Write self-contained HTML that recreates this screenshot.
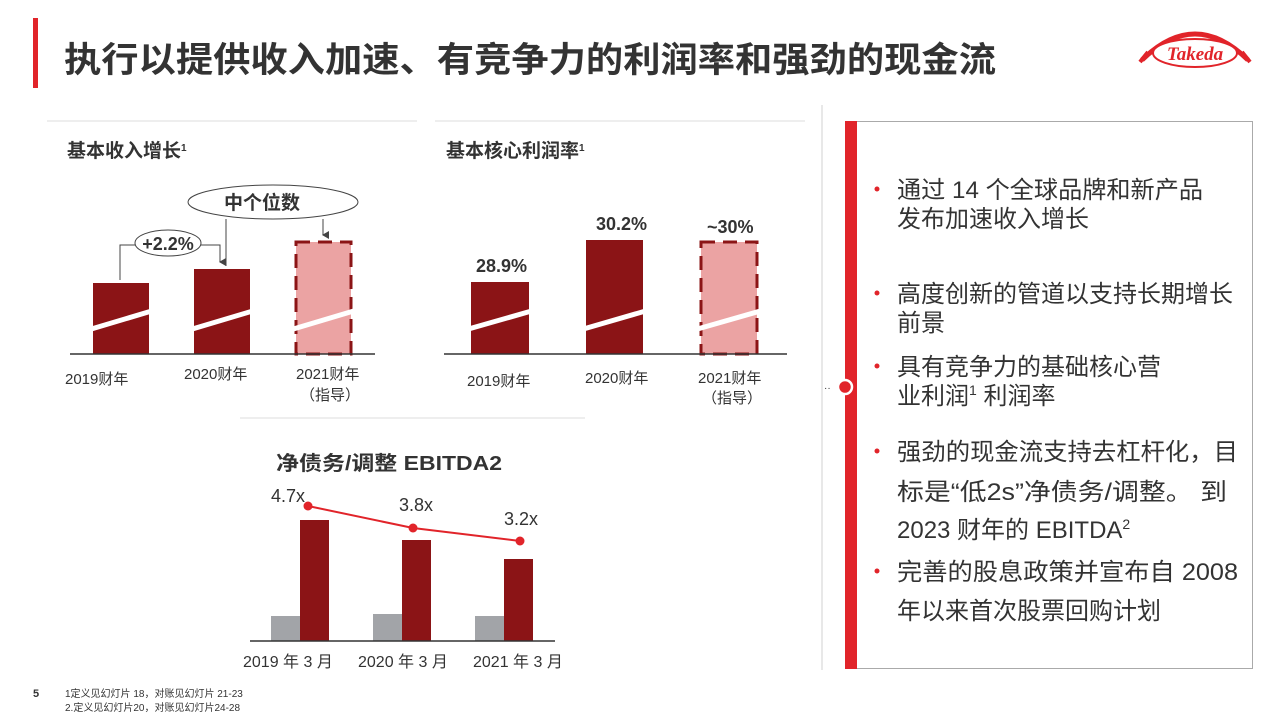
<!DOCTYPE html>
<html><head><meta charset="utf-8"><style>
html,body{margin:0;padding:0;background:#fff;width:1280px;height:720px;overflow:hidden}
svg{display:block}
text{font-family:"Liberation Sans","Noto Sans CJK SC",sans-serif;fill:#333}
</style></head><body>
<svg width="1280" height="720" viewBox="0 0 1280 720" xmlns="http://www.w3.org/2000/svg">
<defs><marker id="ar" markerWidth="8" markerHeight="8" refX="4" refY="6" orient="auto-start-reverse" markerUnits="userSpaceOnUse"><path d="M0,0 L8,0 L4,7 Z" fill="#444"/></marker></defs>
<!-- header -->
<rect x="33" y="18" width="5" height="70" fill="#e1242a"/>
<text x="64" y="72" font-size="35" font-weight="bold" fill="#333" textLength="932" lengthAdjust="spacingAndGlyphs">执行以提供收入加速、有竞争力的利润率和强劲的现金流</text>
<!-- logo -->
<path d="M1142,60 Q1195,8 1248,60" fill="none" stroke="#e1242a" stroke-width="5"/>
<path d="M1140,62 l8,-10 M1250,62 l-8,-10" stroke="#e1242a" stroke-width="4"/>
<ellipse cx="1195" cy="53" rx="42" ry="14" fill="#fff" stroke="#e1242a" stroke-width="2"/>
<text x="1195" y="60" font-size="19" font-style="italic" font-weight="bold" text-anchor="middle" style="fill:#e1242a;font-family:'Liberation Serif',serif">Takeda</text>
<!-- separators -->
<line x1="47" y1="121" x2="417" y2="121" stroke="#ddd"/>
<line x1="435" y1="121" x2="805" y2="121" stroke="#ddd"/>
<line x1="240" y1="418" x2="585" y2="418" stroke="#ddd"/>
<line x1="822" y1="105" x2="822" y2="670" stroke="#e8e8e8" stroke-width="2"/>
<!-- chart1 -->
<text x="67" y="157" font-size="19" font-weight="bold">基本收入增长<tspan font-size="10" dy="-6">1</tspan></text>
<rect x="93" y="283" width="56" height="71" fill="#8b1416"/>
<rect x="194" y="269" width="56" height="85" fill="#8b1416"/>
<rect x="296" y="242" width="55" height="112" fill="#eba3a3" stroke="#8b1416" stroke-width="3" stroke-dasharray="14,8"/>
<g stroke="#fff" stroke-width="5">
<line x1="88" y1="330" x2="155" y2="310"/><line x1="189" y1="330" x2="256" y2="310"/><line x1="290" y1="330" x2="357" y2="310"/></g>
<line x1="70" y1="354" x2="375" y2="354" stroke="#333" stroke-width="1.5"/>
<path d="M120,280 V245 H135" fill="none" stroke="#444"/>
<path d="M201,245 H220 V262" fill="none" stroke="#444" marker-end="url(#ar)"/>
<line x1="226" y1="219" x2="226" y2="266" stroke="#444"/>
<line x1="323" y1="219" x2="323" y2="235" stroke="#444" marker-end="url(#ar)"/>
<ellipse cx="168" cy="243" rx="33" ry="13" fill="#fff" stroke="#444"/>
<text x="168" y="250" font-size="18" font-weight="bold" text-anchor="middle">+2.2%</text>
<ellipse cx="273" cy="202" rx="85" ry="17" fill="#fff" stroke="#444"/>
<text x="262" y="209" font-size="19" font-weight="bold" text-anchor="middle">中个位数</text>
<g font-size="15"><text x="65" y="384">2019财年</text><text x="184" y="379">2020财年</text><text x="296" y="379">2021财年</text><text x="300" y="400">（指导）</text></g>
<!-- chart2 -->
<text x="446" y="157" font-size="19" font-weight="bold">基本核心利润率<tspan font-size="10" dy="-6">1</tspan></text>
<rect x="471" y="282" width="58" height="72" fill="#8b1416"/>
<rect x="586" y="240" width="57" height="114" fill="#8b1416"/>
<rect x="701" y="242" width="56" height="112" fill="#eba3a3" stroke="#8b1416" stroke-width="3" stroke-dasharray="14,8"/>
<g stroke="#fff" stroke-width="5">
<line x1="465" y1="330" x2="535" y2="310"/><line x1="580" y1="330" x2="649" y2="310"/><line x1="694" y1="330" x2="764" y2="310"/></g>
<line x1="444" y1="354" x2="787" y2="354" stroke="#333" stroke-width="1.5"/>
<g font-size="18" font-weight="bold"><text x="476" y="272">28.9%</text><text x="596" y="230">30.2%</text><text x="707" y="233">~30%</text></g>
<g font-size="15"><text x="467" y="386">2019财年</text><text x="585" y="383">2020财年</text><text x="698" y="383">2021财年</text><text x="702" y="403">（指导）</text></g>
<!-- chart3 -->
<text x="276" y="470" font-size="20" font-weight="bold" textLength="226" lengthAdjust="spacingAndGlyphs">净债务/调整 EBITDA2</text>
<g fill="#a2a4a8"><rect x="271" y="616" width="29" height="25"/><rect x="373" y="614" width="29" height="27"/><rect x="475" y="616" width="29" height="25"/></g>
<g fill="#8b1416"><rect x="300" y="520" width="29" height="121"/><rect x="402" y="540" width="29" height="101"/><rect x="504" y="559" width="29" height="82"/></g>
<line x1="250" y1="641" x2="555" y2="641" stroke="#333" stroke-width="1.5"/>
<polyline points="308,506 413,528 520,541" fill="none" stroke="#e1242a" stroke-width="2"/>
<g fill="#e1242a"><circle cx="308" cy="506" r="4.5"/><circle cx="413" cy="528" r="4.5"/><circle cx="520" cy="541" r="4.5"/></g>
<g font-size="18"><text x="271" y="502">4.7x</text><text x="399" y="511">3.8x</text><text x="504" y="525">3.2x</text></g>
<g font-size="16"><text x="243" y="667">2019 年 3 月</text><text x="358" y="667">2020 年 3 月</text><text x="473" y="667">2021 年 3 月</text></g>
<!-- right panel -->
<rect x="856.5" y="121.5" width="396" height="547" fill="#fff" stroke="#aaa"/>
<rect x="845" y="121" width="12" height="548" fill="#e1242a"/>
<circle cx="845" cy="387" r="7" fill="#e1242a" stroke="#fff" stroke-width="2.5"/>
<text x="824" y="391" font-size="10" fill="#888">··</text>
<g fill="#e1242a"><circle cx="877" cy="189" r="2.5"/><circle cx="877" cy="293" r="2.5"/><circle cx="877" cy="366" r="2.5"/><circle cx="877" cy="451" r="2.5"/><circle cx="877" cy="571" r="2.5"/></g>
<g font-size="24">
<text x="897" y="198" textLength="306" lengthAdjust="spacingAndGlyphs">通过 14 个全球品牌和新产品</text>
<text x="897" y="227">发布加速收入增长</text>
<text x="897" y="302" textLength="336" lengthAdjust="spacingAndGlyphs">高度创新的管道以支持长期增长</text>
<text x="897" y="331">前景</text>
<text x="897" y="375">具有竞争力的基础核心营</text>
<text x="897" y="404">业利润<tspan font-size="14" dy="-9">1</tspan><tspan dy="9"> 利润率</tspan></text>
<text x="897" y="460" textLength="341" lengthAdjust="spacingAndGlyphs">强劲的现金流支持去杠杆化，目</text>
<text x="897" y="500" textLength="330" lengthAdjust="spacingAndGlyphs">标是“低2s”净债务/调整。 到</text>
<text x="897" y="538">2023 财年的 EBITDA<tspan font-size="14" dy="-9">2</tspan></text>
<text x="897" y="580" textLength="341" lengthAdjust="spacingAndGlyphs">完善的股息政策并宣布自 2008</text>
<text x="897" y="619">年以来首次股票回购计划</text>
</g>
<!-- footer -->
<text x="33" y="697" font-size="11" font-weight="bold">5</text>
<text x="65" y="697" font-size="10">1定义见幻灯片 18，对账见幻灯片 21-23</text>
<text x="65" y="711" font-size="10">2.定义见幻灯片20，对账见幻灯片24-28</text>
</svg>
</body></html>
